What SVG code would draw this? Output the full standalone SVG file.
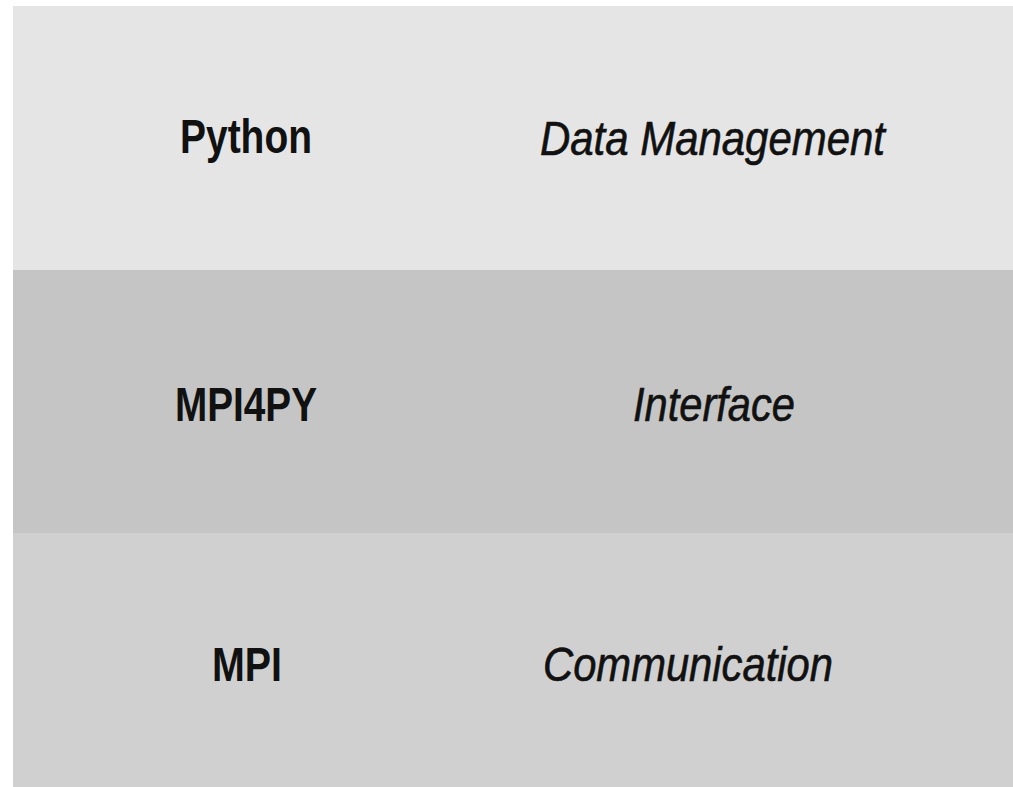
<svg xmlns="http://www.w3.org/2000/svg" width="1013" height="787" viewBox="0 0 1013 787">
<style>
.lbl{font-family:"Liberation Sans",Arial,sans-serif;font-size:48px;fill:#111}
.b{font-weight:bold}
.i{font-style:italic;stroke:#111;stroke-width:0.6}
</style>
<rect width="1013" height="787" fill="#ffffff"/>
<g id="python-layer">
<rect x="13" y="6" width="1000" height="264" fill="#e4e5e4"/>
<text class="lbl b" x="180" y="153" textLength="132" lengthAdjust="spacingAndGlyphs">Python</text>
<text class="lbl i" x="540" y="155" textLength="345" lengthAdjust="spacingAndGlyphs">Data Management</text>
</g>
<g id="mpi4py-layer">
<rect x="13" y="270" width="1000" height="263" fill="#c4c5c4"/>
<text class="lbl b" x="175" y="421" textLength="142" lengthAdjust="spacingAndGlyphs">MPI4PY</text>
<text class="lbl i" x="633" y="421" textLength="162" lengthAdjust="spacingAndGlyphs">Interface</text>
</g>
<g id="mpi-layer">
<rect x="13" y="533" width="1000" height="254" fill="#d0d0d0"/>
<text class="lbl b" x="212" y="681" textLength="70" lengthAdjust="spacingAndGlyphs">MPI</text>
<text class="lbl i" x="543" y="681" textLength="290" lengthAdjust="spacingAndGlyphs">Communication</text>
</g>
<g id="connectors"/>
</svg>
